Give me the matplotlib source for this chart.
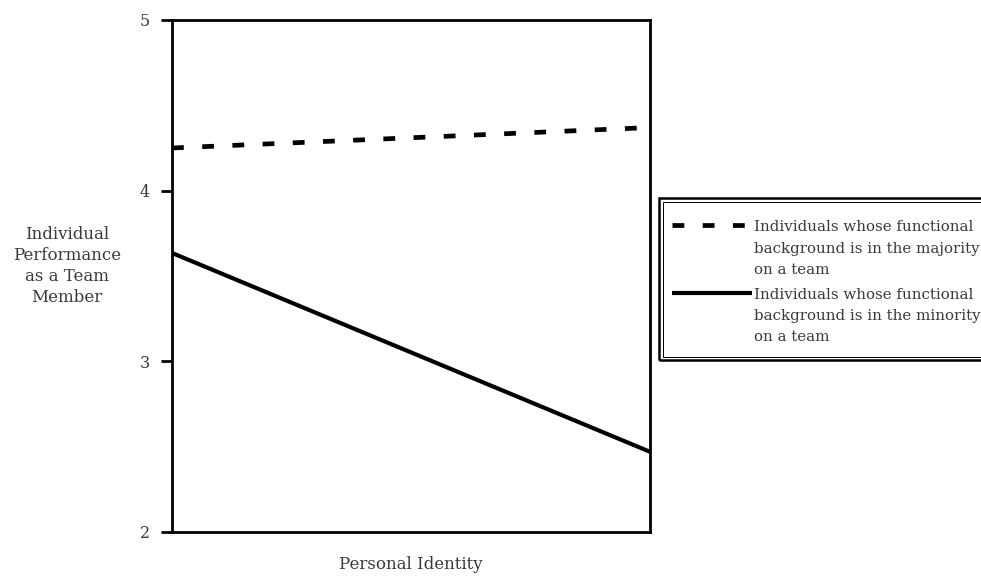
import matplotlib
matplotlib.use('Agg')
import matplotlib.pyplot as plt
import matplotlib as mpl
from matplotlib.patches import Rectangle
from matplotlib.legend_handler import HandlerLine2D

# 数据
x_levels = [-1, 1]  # Personal Identity: low / high
majority = [4.25, 4.37]
minority = [3.635, 2.47]
y_ticks = [2, 3, 4, 5]
labels = ['Individuals whose functional\nbackground is in the majority\non a team',
          'Individuals whose functional\nbackground is in the minority\non a team']

mpl.rcParams['font.family'] = 'DejaVu Serif'
mpl.rcParams['font.size'] = 12
text_color = '#3a3a3a'
W, H = 981, 578


# 图例线段对齐到第一行文字
class TopLineHandler(HandlerLine2D):
    def __init__(self, yshift, **kw):
        super().__init__(**kw)
        self.yshift = yshift

    def create_artists(self, legend, orig_handle, xdescent, ydescent,
                       width, height, fontsize, trans):
        arts = super().create_artists(legend, orig_handle, xdescent, ydescent,
                                      width, height, fontsize, trans)
        for a in arts:
            a.set_ydata([y + self.yshift for y in a.get_ydata()])
        return arts


fig = plt.figure(figsize=(W / 100, H / 100), dpi=100)
ax = fig.add_axes([172 / W, 1 - 532 / H, (650 - 172) / W, (532 - 20) / H])

l1, = ax.plot(x_levels, majority, color='black', linewidth=3.4,
              linestyle=(0, (2.5, 3.9)), solid_capstyle='butt')
l2, = ax.plot(x_levels, minority, color='black', linewidth=3.0,
              solid_capstyle='butt')

ax.set_xlim(x_levels[0], x_levels[1])
ax.set_ylim(2, 5)
ax.set_yticks(y_ticks)
ax.set_xticks([])
for s in ax.spines.values():
    s.set_linewidth(2.0)
ax.tick_params(axis='y', direction='out', length=8, width=2.0, pad=8,
               labelsize=11.5, labelcolor=text_color)

ax.set_xlabel('Personal Identity', fontsize=12, color=text_color, labelpad=17)
fig.text(67 / W, 1 - 266 / H, 'Individual\nPerformance\nas a Team\nMember',
         ha='center', va='center', fontsize=12, color=text_color, linespacing=1.33)

# 图例
shift = 23.5 * 72 / 100  # 像素 -> 点
hmap = {l1: TopLineHandler(shift), l2: TopLineHandler(shift)}
leg = fig.legend(handles=[l1, l2], labels=labels, loc='upper left',
                 bbox_to_anchor=(672 / W, 1 - 220.5 / H),
                 bbox_transform=fig.transFigure, borderaxespad=0, borderpad=0,
                 frameon=False, handlelength=5.35, handletextpad=0.12,
                 labelspacing=0.74, fontsize=10.8, labelcolor=text_color,
                 handler_map=hmap)
for t in leg.get_texts():
    t.set_linespacing(1.65)

# 双线边框
fig.patches.append(Rectangle((659 / W, 1 - 360 / H), (995 - 659) / W, (360 - 198) / H,
                             transform=fig.transFigure, fill=False,
                             edgecolor='black', linewidth=1.8))
fig.patches.append(Rectangle((663 / W, 1 - 356.5 / H), (995 - 663) / W, (356.5 - 201.5) / H,
                             transform=fig.transFigure, fill=False,
                             edgecolor='black', linewidth=0.7))

plt.savefig('out.png', dpi=100)
